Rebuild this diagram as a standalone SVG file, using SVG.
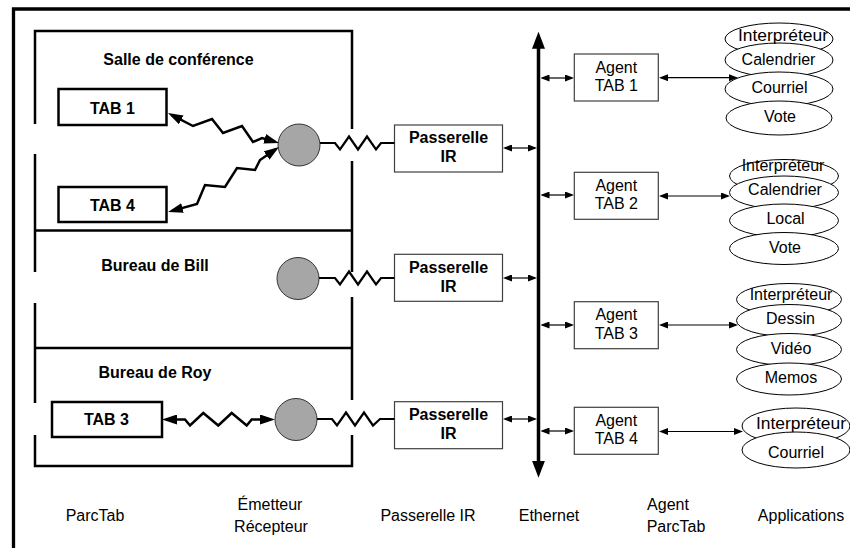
<svg xmlns="http://www.w3.org/2000/svg" width="850" height="548" viewBox="0 0 850 548">
<style>
.wall{fill:none;stroke:#000;stroke-width:2.5;stroke-linejoin:miter}
.tab{fill:#fff;stroke:#000;stroke-width:2.5}
.box{fill:#fff;stroke:#404040;stroke-width:1.2}
.app{fill:#fff;stroke:#000;stroke-width:1}
.tr{fill:#a6a6a6;stroke:#333;stroke-width:1}
.b16{font-family:"Liberation Sans",Arial,sans-serif;font-size:16px;font-weight:bold;text-anchor:middle;fill:#000}
.n16{font-family:"Liberation Sans",Arial,sans-serif;font-size:16px;text-anchor:middle;fill:#000}
.lbl{font-family:"Liberation Sans",Arial,sans-serif;font-size:16px;text-anchor:middle;fill:#000}
.thin{fill:none;stroke:#000;stroke-width:1.2;marker-start:url(#sS);marker-end:url(#sE)}
.zig{fill:none;stroke:#000;stroke-width:2.5;stroke-linejoin:miter;marker-start:url(#zS);marker-end:url(#zE)}
.spring{fill:none;stroke:#000;stroke-width:2.2;stroke-linejoin:miter}
.eth{fill:none;stroke:#000;stroke-width:3.5;marker-start:url(#eS);marker-end:url(#eE)}
</style>
<defs>
<marker id="sE" viewBox="0 0 9 7" refX="7" refY="3.5" markerWidth="9" markerHeight="7" markerUnits="userSpaceOnUse" orient="auto"><path d="M0,0 L9,3.5 L0,7 z" fill="#000"/></marker>
<marker id="sS" viewBox="0 0 9 7" refX="2" refY="3.5" markerWidth="9" markerHeight="7" markerUnits="userSpaceOnUse" orient="auto"><path d="M9,0 L0,3.5 L9,7 z" fill="#000"/></marker>
<marker id="zE" viewBox="0 0 15 10" refX="11" refY="5" markerWidth="15" markerHeight="10" markerUnits="userSpaceOnUse" orient="auto"><path d="M0,0 L15,5 L0,10 z" fill="#000"/></marker>
<marker id="zS" viewBox="0 0 15 10" refX="4" refY="5" markerWidth="15" markerHeight="10" markerUnits="userSpaceOnUse" orient="auto"><path d="M15,0 L0,5 L15,10 z" fill="#000"/></marker>
<marker id="eE" viewBox="0 0 17 13" refX="11" refY="6.5" markerWidth="17" markerHeight="13" markerUnits="userSpaceOnUse" orient="auto"><path d="M0,0 L17,6.5 L0,13 z" fill="#000"/></marker>
<marker id="eS" viewBox="0 0 17 13" refX="6" refY="6.5" markerWidth="17" markerHeight="13" markerUnits="userSpaceOnUse" orient="auto"><path d="M17,0 L0,6.5 L17,13 z" fill="#000"/></marker>
</defs>

<rect width="850" height="548" fill="#fff"/>
<path d="M13.5,548 V9 H850" fill="none" stroke="#000" stroke-width="3.3"/>

<g id="rooms">
<path class="wall" d="M352,129 V31 H35 V124"/>
<path class="wall" d="M35,154 V272 M35,303 V403"/>
<path class="wall" d="M352,161 V272 M352,297 V400"/>
<path class="wall" d="M35,435 V466 H352 V435"/>
<path class="wall" d="M35,230.5 H352 M35,348 H352"/>
<text class="b16" x="178.5" y="65">Salle de conférence</text>
<text class="b16" x="155" y="271">Bureau de Bill</text>
<text class="b16" x="155" y="377.5">Bureau de Roy</text>
</g>

<g id="tab1"><rect class="tab" x="58.5" y="89" width="108" height="36"/><text class="b16" x="112.5" y="113.5">TAB 1</text></g>
<g id="tab4"><rect class="tab" x="58.5" y="187" width="108" height="35"/><text class="b16" x="112.5" y="211">TAB 4</text></g>
<g id="tab3"><rect class="tab" x="52" y="402" width="110" height="35"/><text class="b16" x="106.5" y="425">TAB 3</text></g>

<g id="er1"><circle class="tr" cx="299" cy="145" r="21"/></g>
<g id="er2"><circle class="tr" cx="298" cy="278.5" r="21"/></g>
<g id="er3"><circle class="tr" cx="296" cy="419.5" r="21"/></g>

<g id="pir1"><rect class="box" x="394.5" y="125" width="108" height="47"/><text class="b16" x="448.5" y="143.3">Passerelle</text><text class="b16" x="448.5" y="162.3">IR</text></g>
<g id="pir2"><rect class="box" x="394.5" y="254.3" width="108" height="47"/><text class="b16" x="448.5" y="272.6">Passerelle</text><text class="b16" x="448.5" y="291.6">IR</text></g>
<g id="pir3"><rect class="box" x="394.5" y="401.7" width="108" height="47"/><text class="b16" x="448.5" y="420">Passerelle</text><text class="b16" x="448.5" y="439">IR</text></g>

<g id="agent1"><rect class="box" x="574.3" y="54" width="84" height="47"/><text class="n16" x="616.3" y="72.5">Agent</text><text class="n16" x="616.3" y="91">TAB 1</text></g>
<g id="agent2"><rect class="box" x="574.3" y="172.3" width="84" height="47"/><text class="n16" x="616.3" y="190.8">Agent</text><text class="n16" x="616.3" y="209.3">TAB 2</text></g>
<g id="agent3"><rect class="box" x="574.3" y="301.7" width="84" height="47"/><text class="n16" x="616.3" y="320.2">Agent</text><text class="n16" x="616.3" y="338.7">TAB 3</text></g>
<g id="agent4"><rect class="box" x="574.3" y="407.3" width="84" height="47"/><text class="n16" x="616.3" y="425.8">Agent</text><text class="n16" x="616.3" y="444.3">TAB 4</text></g>

<g id="apps1">
<ellipse class="app" cx="779" cy="39" rx="54" ry="16"/>
<ellipse class="app" cx="779" cy="60" rx="54" ry="17"/>
<ellipse class="app" cx="779" cy="89" rx="54" ry="17"/>
<ellipse class="app" cx="779" cy="118" rx="53" ry="17"/>
<text class="n16" x="783" y="40.5" textLength="90" lengthAdjust="spacingAndGlyphs">Interpréteur</text>
<text class="n16" x="778.5" y="65">Calendrier</text>
<text class="n16" x="779.5" y="93">Courriel</text>
<text class="n16" x="780" y="122">Vote</text>
</g>
<g id="apps2">
<ellipse class="app" cx="784" cy="176" rx="54.5" ry="16.5"/>
<ellipse class="app" cx="784" cy="192.5" rx="54.5" ry="16.5"/>
<ellipse class="app" cx="784" cy="220.5" rx="54.5" ry="16.5"/>
<ellipse class="app" cx="784" cy="248.5" rx="54.5" ry="16"/>
<text class="n16" x="783" y="170.5">Interpréteur</text>
<text class="n16" x="785" y="194.5">Calendrier</text>
<text class="n16" x="785.5" y="223.5">Local</text>
<text class="n16" x="785" y="253">Vote</text>
</g>
<g id="apps3">
<ellipse class="app" cx="789" cy="299.5" rx="52.5" ry="16"/>
<ellipse class="app" cx="789" cy="320.5" rx="52.5" ry="16"/>
<ellipse class="app" cx="789" cy="349.5" rx="52.5" ry="16"/>
<ellipse class="app" cx="789" cy="379" rx="52.5" ry="16"/>
<text class="n16" x="791" y="300">Interpréteur</text>
<text class="n16" x="790.5" y="323.5">Dessin</text>
<text class="n16" x="791" y="353.5">Vidéo</text>
<text class="n16" x="791" y="382.5">Memos</text>
</g>
<g id="apps4">
<ellipse class="app" cx="796" cy="426" rx="54" ry="18"/>
<ellipse class="app" cx="796" cy="450" rx="54" ry="18"/>
<text class="n16" x="801" y="429.3" textLength="90" lengthAdjust="spacingAndGlyphs">Interpréteur</text>
<text class="n16" x="796" y="458.3">Courriel</text>
</g>

<g id="connectors">
<path class="eth" d="M538.5,37.7 V471.7"/>
<path class="spring" d="M320,143 H335 L340,149.5 L349,136.5 L358,149.5 L367,136.5 L376,149.5 L381,143 H394.5"/>
<path class="spring" d="M319,278 H335 L340,284.5 L349,271.5 L358,284.5 L367,271.5 L376,284.5 L381,278 H394.5"/>
<path class="spring" d="M317,419 H332 L337,425.5 L346,412.5 L355,425.5 L364,412.5 L373,425.5 L380,419 H394.5"/>
<path class="zig" d="M171.5,114.8 L193,126 L212,119 L223,133 L242,126 L253,142 L262,138 L275.2,141.9"/>
<path class="zig" d="M171.9,210.9 L197,204 L205,185 L225,187 L237,168 L255,170 L260,160 L275.7,149.3"/>
<path class="zig" d="M166,419.5 H185 L190,425.5 L203.3,413 L218.3,425.5 L231.7,413 L246.7,425.5 L251.7,419.5 H271"/>
<path class="thin" d="M505,148 H535"/>
<path class="thin" d="M505,278 H535"/>
<path class="thin" d="M505,419 H535"/>
<path class="thin" d="M542.5,78 H572"/>
<path class="thin" d="M542.5,195 H572"/>
<path class="thin" d="M542.5,325 H572"/>
<path class="thin" d="M542.5,431 H572"/>
<path class="thin" d="M661,77.7 H736"/>
<path class="thin" d="M661,196 H728"/>
<path class="thin" d="M661,325 H736"/>
<path class="thin" d="M661,431.5 H741"/>
</g>

<g id="labels">
<text class="lbl" x="95" y="520.5">ParcTab</text>
<text class="lbl" x="270" y="510">Émetteur</text>
<text class="lbl" x="271" y="532">Récepteur</text>
<text class="lbl" x="428" y="520.5">Passerelle IR</text>
<text class="lbl" x="549" y="520.5">Ethernet</text>
<text class="lbl" x="668" y="510">Agent</text>
<text class="lbl" x="676" y="532">ParcTab</text>
<text class="lbl" x="801" y="520.5">Applications</text>
</g>
</svg>
